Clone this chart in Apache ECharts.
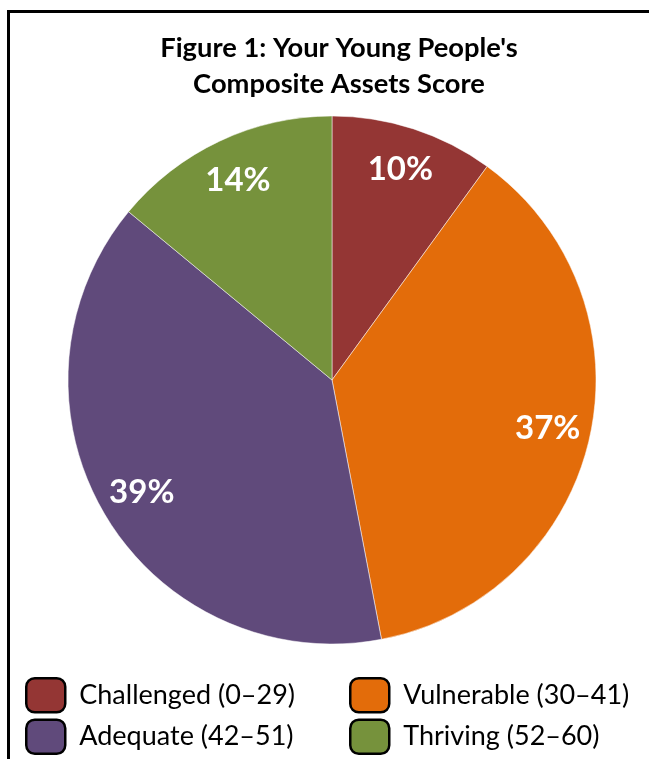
<!DOCTYPE html>
<html>
<head>
<meta charset="utf-8">
<script src="https://cdn.jsdelivr.net/npm/echarts@6/dist/echarts.min.js"></script>
<style>
html, body { margin: 0; padding: 0; background: #fff; }
#main { width: 649px; height: 759px; }
</style>
</head>
<body>
<div id="main"></div>
<script>
// categories and shares (percent), clockwise from 12 o'clock
var categories = ['Challenged (0\u201329)', 'Vulnerable (30\u201341)', 'Adequate (42\u201351)', 'Thriving (52\u201360)'];
var shares = [10, 37, 39, 14];
var colors = ['#943634', '#E36C0A', '#604A7B', '#76923C'];

var chart = echarts.init(document.getElementById('main'));

var pieData = [];
for (var i in categories) {
	pieData.push({
		name : categories[i],
		value : shares[i],
		itemStyle : { color : colors[i] }
	});
}

// one legend column
function legendColumn(left, names) {
	return {
		orient : 'vertical',
		left : left,
		top : 677,
		data : names,
		icon : 'roundRect',
		itemWidth : 39,
		itemHeight : 34,
		itemGap : 5,
		padding : 0,
		selectedMode : false,
		itemStyle : { borderColor : '#000', borderWidth : 2.5 },
		textStyle : { fontFamily : 'Lato', fontSize : 27, color : '#000', padding : [0, 0, 0, 9] }
	};
}

var option = {
	animation : false,
	color : colors,
	graphic : [ {
		type : 'rect',
		shape : { x : 8.5, y : 11.5, width : 700, height : 800 },
		style : { fill : null, stroke : '#000', lineWidth : 3 },
		silent : true
	} ],
	title : {
		text : 'Figure 1: Your Young People\'s\nComposite Assets Score',
		left : 334,
		top : 25,
		textAlign : 'center',
		textStyle : {
			fontFamily : 'Lato',
			fontWeight : 'bold',
			fontSize : 27.3,
			lineHeight : 36,
			color : '#000'
		}
	},
	legend : [
		legendColumn(25, [categories[0], categories[2]]),
		legendColumn(349, [categories[1], categories[3]])
	],
	series : [ {
		type : 'pie',
		center : [332, 380],
		radius : [0, 264],
		startAngle : 90,
		clockwise : true,
		data : pieData,
		label : { show : false },
		labelLine : { show : false },
		itemStyle : { borderColor : '#fff', borderWidth : 0.5 },
		emphasis : { disabled : true }
	}, {
		type : 'pie',
		center : [332, 380],
		radius : [172, 264],
		startAngle : 90,
		clockwise : true,
		silent : true,
		data : pieData.map(function (d) {
			return { name : d.name, value : d.value, itemStyle : { color : 'transparent' } };
		}),
		label : {
			show : true,
			position : 'inside',
			formatter : '{c}%',
			fontFamily : 'Lato',
			fontWeight : 'bold',
			fontSize : 33,
			color : '#fff'
		},
		labelLine : { show : false },
		emphasis : { disabled : true }
	} ]
};

chart.setOption(option);
</script>
</body>
</html>
